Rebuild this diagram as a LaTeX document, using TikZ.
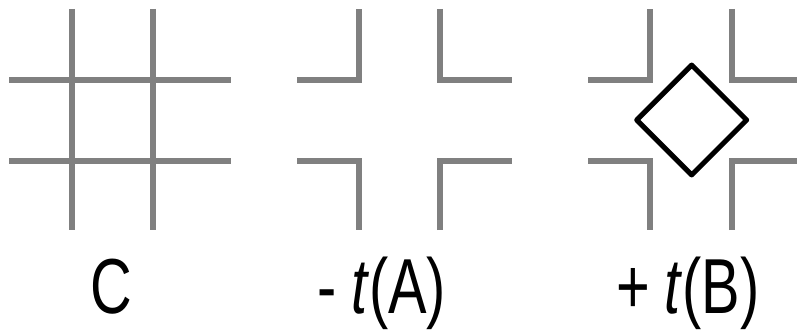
\documentclass[tikz,border=0pt]{standalone}
\usepackage{fontspec}
\usepackage{tikz}
\usetikzlibrary{shapes.geometric}
\newfontfamily\narrowsans[FakeStretch=0.74]{Liberation Sans}
\definecolor{gridGray}{RGB}{128,128,128}
\definecolor{darkText}{RGB}{0,0,0}
\tikzset{
    bar/.style={draw=gridGray, line width=5.5pt},
    tile/.style={diamond, draw=darkText, line width=5pt, line join=round,
                 minimum width=112pt, minimum height=112pt, inner sep=0pt},
    term/.style={font=\narrowsans\fontsize{78}{78}\selectfont, text=darkText,
                 anchor=base, inner sep=0pt}
}
\begin{document}
\begin{tikzpicture}[x=1pt, y=-1pt]
    \useasboundingbox (0,0) rectangle (797,329);

    % Full grid
    \foreach \gx in {72,153} \draw[bar] (\gx,9) -- (\gx,230);
    \foreach \gy in {80,161} \draw[bar] (9.3,\gy) -- (230.7,\gy);

    % Corners only
    \draw[bar] (297,80) -- (359,80) -- (359,9);
    \draw[bar] (440,9) -- (440,80) -- (512,80);
    \draw[bar] (297,161) -- (359,161) -- (359,230);
    \draw[bar] (440,230) -- (440,161) -- (512,161);

    % Corners with the tile
    \draw[bar] (588,80) -- (650,80) -- (650,9);
    \draw[bar] (732,9) -- (732,80) -- (797,80);
    \draw[bar] (588,161) -- (650,161) -- (650,230);
    \draw[bar] (732,230) -- (732,161) -- (797,161);
    \node[tile] (rhombus) at (691.7,120) {};

    % Labels
    \node[term] (cterm) at (111,313) {C};
    \node[term] (aterm) at (382,313) {-\hspace{14pt}\textit{t}(A)};
    \node[term] (bterm) at (688,313) {+\hspace{14pt}\textit{t}(B)};
\end{tikzpicture}
\end{document}
